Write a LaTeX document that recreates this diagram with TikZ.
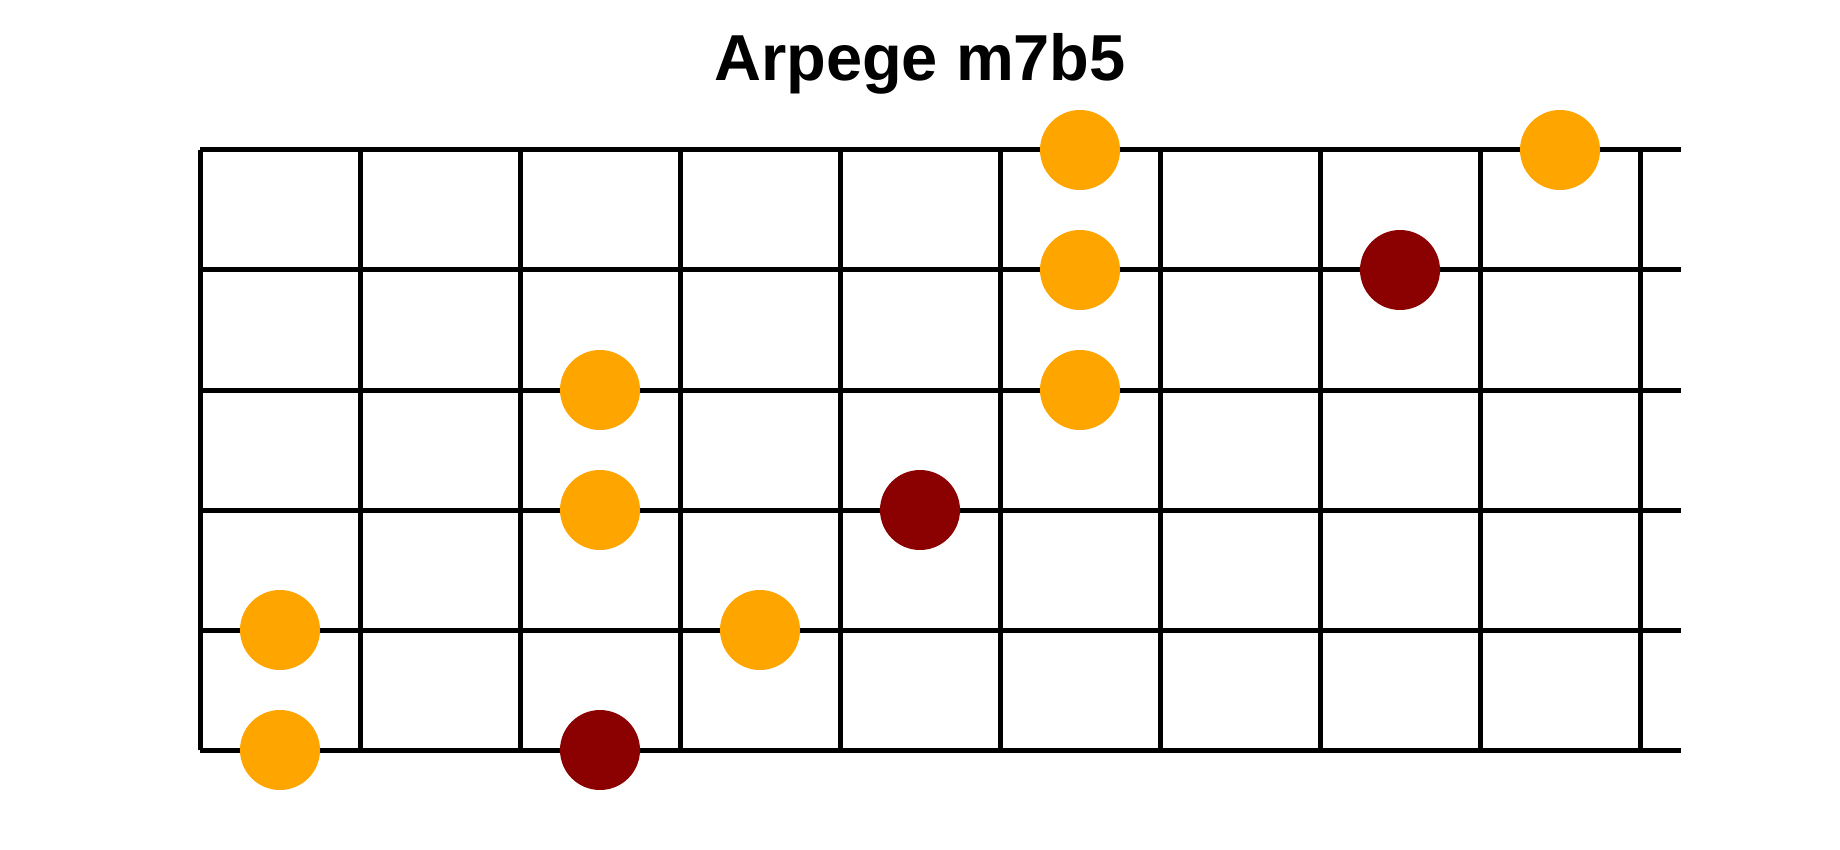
\documentclass[tikz,border=0pt]{standalone}
\usepackage{fontspec}
\newfontfamily\titlefont{Liberation Sans}
\usepackage{tikz}
\definecolor{notecol}{HTML}{FFA500}
\definecolor{rootcol}{HTML}{8B0000}

\begin{document}
\begin{tikzpicture}[x=1pt,y=-1pt,line width=5pt,
	note/.style={circle,fill=notecol,inner sep=0pt,minimum size=80pt},
	root/.style={circle,fill=rootcol,inner sep=0pt,minimum size=80pt}]
	\useasboundingbox (0,0) rectangle (1840,850);
	\node[anchor=base] (title) at (920,81) {\titlefont\bfseries\fontsize{65}{78}\selectfont Arpege m7b5};
	% strings
	\draw (200,150) -- (1681,150);
	\draw (200,270) -- (1681,270);
	\draw (200,390) -- (1681,390);
	\draw (200,510) -- (1681,510);
	\draw (200,630) -- (1681,630);
	\draw (200,750) -- (1681,750);
	% frets
	\draw (200,150) -- (200,750);
	\draw (360,150) -- (360,750);
	\draw (520,150) -- (520,750);
	\draw (680,150) -- (680,750);
	\draw (840,150) -- (840,750);
	\draw (1000,150) -- (1000,750);
	\draw (1160,150) -- (1160,750);
	\draw (1320,150) -- (1320,750);
	\draw (1480,150) -- (1480,750);
	\draw (1640,150) -- (1640,750);
	% notes
	\node[note] (e6) at (1080,150) {};
	\node[note] (e9) at (1560,150) {};
	\node[note] (b6) at (1080,270) {};
	\node[root] (b8) at (1400,270) {};
	\node[note] (g3) at (600,390) {};
	\node[note] (g6) at (1080,390) {};
	\node[note] (d3) at (600,510) {};
	\node[root] (d5) at (920,510) {};
	\node[note] (a1) at (280,630) {};
	\node[note] (a4) at (760,630) {};
	\node[note] (low1) at (280,750) {};
	\node[root] (low3) at (600,750) {};
\end{tikzpicture}
\end{document}
